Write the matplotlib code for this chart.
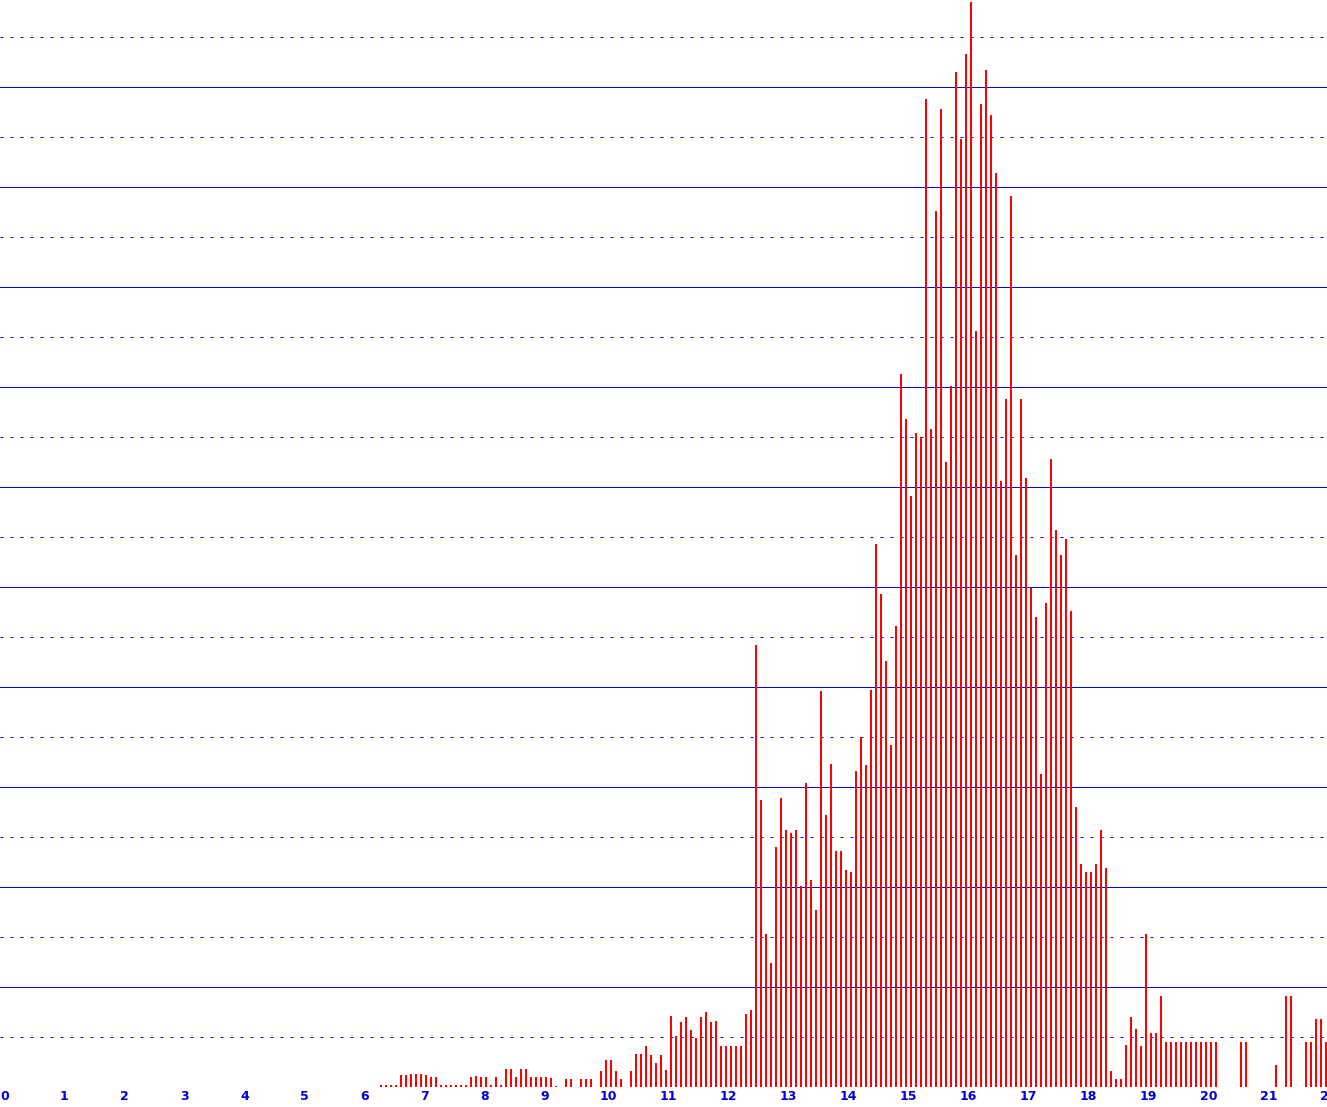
import numpy as np
import matplotlib
matplotlib.use("Agg")
import matplotlib.pyplot as plt

# bins are 1/12 wide; first non-empty bin index
bins_per_unit = 12
first_bin = 76

# bar heights (one per bin, starting at first_bin)
heights = [
    2.3, 2.3, 2.3, 2.3,
    12.3, 12.3, 13.3, 13.3, 13.3, 12.3, 10.3, 10.3,
    2.3, 2.3, 2.3, 2.3, 2.3, 2.3,
    10.3, 11.3, 10.3, 10.3, 2.3, 10.3, 2.3,
    18.3, 18.3, 10.3, 18.3, 18.3, 10.3, 10.3, 10.3, 10.3, 9.3,
    1.3, 0, 8.3, 8.3, 0, 8.3, 8.3, 8.3, 0,
    16.3, 27.3, 27.3, 16.3, 8.3, 0,
    16.3, 33.3, 33.3, 41.3, 32.3, 24.3, 32.3, 17.3,
    71.3, 51.3, 65.3, 70.3, 57.3, 49.3, 70.3, 75.3, 65.3, 66.3,
    41.3, 41.3, 41.3, 41.3, 41.3, 73.3, 77.3,
    442, 287, 153, 124, 240, 289, 257, 254, 257, 201,
    304, 207, 177, 396, 272, 323, 236, 236, 217, 215,
    316, 350, 322, 397, 543, 493, 426, 342, 461, 713,
    668, 591, 654, 650, 988, 658, 876, 978, 625, 701,
    1015, 948, 1033, 1085, 756, 983, 1017, 972, 914, 606,
    688, 891, 532, 688, 609, 499, 470, 313, 484, 628,
    557, 532, 548, 476, 280, 223, 215, 215, 223, 257,
    219, 16, 8, 8, 42, 70, 58, 41, 153, 54,
    54, 91, 45, 45, 45, 45, 45, 45, 45, 45,
    45, 45, 45, 0, 0, 0, 0, 45, 45, 0,
    0, 0, 0, 0, 22, 0, 91, 91, 0, 0,
    45, 45, 68, 68, 45,
]
x_ticks = list(range(0, 23))

blue = "#0000ff"
label_blue = "#0000dd"

x = (first_bin + np.arange(len(heights))) / bins_per_unit

fig = plt.figure(figsize=(13.27, 11.07), dpi=100)
ax = fig.add_axes([0, 20 / 1107, 1, 1087 / 1107])

ax.bar(x, heights, width=2 / 60, align="edge", color="#ff0000",
       linewidth=0, antialiased=False, zorder=3)

ax.set_xlim(0, 1327 / 60)
ax.set_ylim(0, 1087)

# solid lines every 100, dotted in between
ax.set_yticks(np.arange(0, 1087, 100))
ax.set_yticks(np.arange(50, 1087, 100), minor=True)
ax.grid(axis="y", which="major", color=blue, linewidth=0.72, zorder=1)
ax.grid(axis="y", which="minor", color=blue, linewidth=0.72,
        linestyle=(0, (3, 7)), zorder=1)
ax.tick_params(axis="y", which="both", length=0, labelleft=False)

ax.set_xticks(x_ticks)
ax.set_xticklabels([str(t) for t in x_ticks], ha="left", color=label_blue,
                   fontsize=9, fontweight="bold")
ax.tick_params(axis="x", length=0, pad=2)

for s in ax.spines.values():
    s.set_visible(False)

fig.savefig("out.png", dpi=100)
